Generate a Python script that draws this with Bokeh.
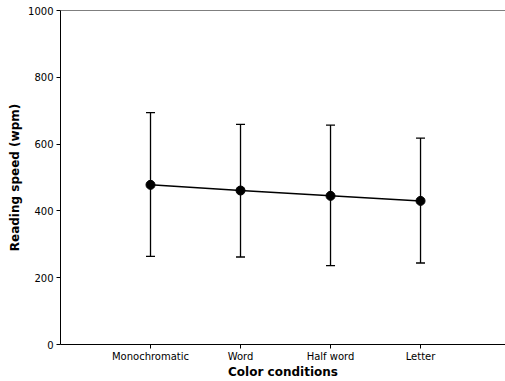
from bokeh.plotting import figure
from bokeh.models import ColumnDataSource, Whisker, TeeHead, FixedTicker, Range1d, Span
from bokeh.embed import file_html
from bokeh.resources import INLINE

categories = ["Monochromatic", "Word", "Half word", "Letter"]
means = [478, 461, 445, 430]
upper = [694, 659, 657, 618]
lower = [264, 262, 236, 244]
y_ticks = [0, 200, 400, 600, 800, 1000]

xs = list(range(len(categories)))
src = ColumnDataSource(dict(x=xs, y=means, upper=upper, lower=lower))

p = figure(width=505, height=381, output_backend="svg", toolbar_location=None,
           x_range=Range1d(-1, 3.944), y_range=Range1d(0, 1000),
           min_border_left=60, min_border_right=0, min_border_top=10, min_border_bottom=10)
p.background_fill_color = "white"
p.border_fill_color = "white"
p.outline_line_color = None
p.grid.visible = False

w = Whisker(source=src, base="x", upper="upper", lower="lower",
            line_color="black", line_width=1.3,
            upper_head=TeeHead(size=9, line_color="black", line_width=1.3),
            lower_head=TeeHead(size=9, line_color="black", line_width=1.3))
p.add_layout(w)
p.line("x", "y", source=src, line_color="black", line_width=1.5)
p.scatter("x", "y", source=src, size=9, color="black")

p.add_layout(Span(location=1000, dimension="width", line_color="black", line_width=1))

p.xaxis.ticker = FixedTicker(ticks=xs)
p.xaxis.major_label_overrides = {i: c for i, c in enumerate(categories)}
p.yaxis.ticker = FixedTicker(ticks=y_ticks)
for ax in (p.xaxis, p.yaxis):
    ax.minor_tick_line_color = None
    ax.major_tick_in = 0
    ax.major_tick_out = 4
    ax.axis_line_color = "black"
    ax.major_tick_line_color = "black"
    ax.major_label_text_font = "DejaVu Sans"
    ax.major_label_text_font_size = "10px"
    ax.major_label_text_color = "black"
    ax.axis_label_text_font = "DejaVu Sans"
    ax.axis_label_text_font_size = "12px"
    ax.axis_label_text_font_style = "bold"
    ax.axis_label_text_color = "black"
    ax.major_label_standoff = 3
    ax.axis_label_standoff = 3
p.xaxis.major_label_standoff = 2
p.xaxis.axis_label_standoff = 0
p.xaxis.axis_label = "Color conditions"
p.yaxis.axis_label = "Reading speed (wpm)"

open("out.html", "w").write(file_html(p, INLINE))
